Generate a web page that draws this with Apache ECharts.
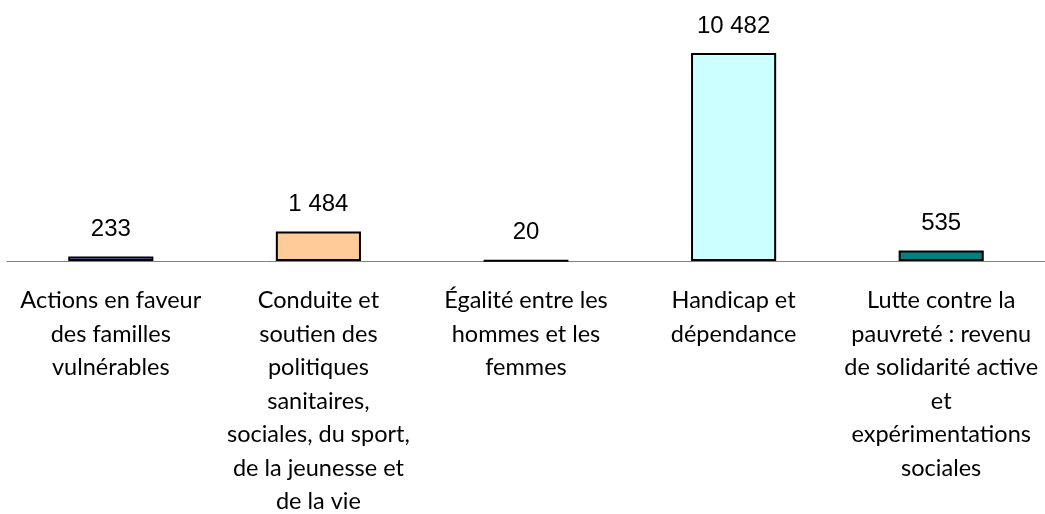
<!DOCTYPE html>
<html>
<head>
<meta charset="utf-8">
<script src="https://cdn.jsdelivr.net/npm/echarts@6/dist/echarts.min.js"></script>
<style>
    html, body { margin: 0; padding: 0; background: #fff; }
    #main { width: 1045px; height: 514px; }
</style>
</head>
<body>
<div id="main"></div>
<script>
// catégories (retours à la ligne comme sur l'original)
var categories = [
    'Actions en faveur\ndes familles\nvulnérables',
    'Conduite et\nsoutien des\npolitiques\nsanitaires,\nsociales, du sport,\nde la jeunesse et\nde la vie',
    'Égalité entre les\nhommes et les\nfemmes',
    'Handicap et\ndépendance',
    'Lutte contre la\npauvreté : revenu\nde solidarité active\net\nexpérimentations\nsociales'
];
var values = [233, 1484, 20, 10482, 535];

var barColors = ['#9999ff', '#ffcc99', '#333399', '#ccffff', '#008080'];

function formatNombre(v) {
    return String(v).replace(/\B(?=(\d{3})+(?!\d))/g, ' ');
}

var chart = echarts.init(document.getElementById('main'));
var option = {
    animation: false,
    grid: {
        left: 7,
        right: 0,
        top: 23,
        bottom: 253,
        containLabel: false,
        outerBoundsMode: 'none'
    },
    xAxis: {
        type: 'category',
        data: categories,
        axisLine: { lineStyle: { color: '#808080', width: 1 } },
        axisTick: { show: false },
        axisLabel: {
            interval: 0,
            margin: 23,
            color: '#000',
            fontFamily: 'Lato',
            fontSize: 23.5,
            lineHeight: 33.5
        }
    },
    yAxis: {
        type: 'value',
        min: 0,
        max: 12000,
        show: false,
        splitLine: { show: false }
    },
    series: [{
        type: 'bar',
        data: values.map(function (v, i) {
            return { value: v, itemStyle: { color: barColors[i] } };
        }),
        barWidth: '41%',
        itemStyle: {
            borderColor: '#000',
            borderWidth: 2
        },
        label: {
            show: true,
            position: 'top',
            distance: 15,
            color: '#000',
            fontFamily: 'Liberation Sans',
            fontSize: 24,
            formatter: function (p) { return formatNombre(p.value); }
        }
    }]
};
chart.setOption(option);
</script>
</body>
</html>
